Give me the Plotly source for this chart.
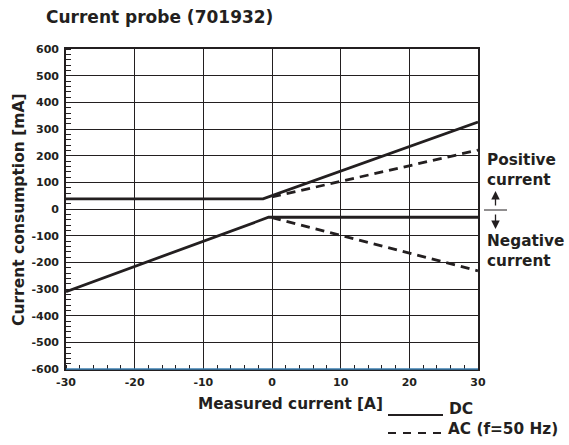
import plotly.graph_objects as go

# Measured current [A] and current consumption [mA]
dc_pos_x = [-30, -1.3, 30]
dc_pos_y = [38, 38, 326]
ac_pos_x = [0, 30]
ac_pos_y = [45, 221]
dc_neg_x = [-30, -0.5, 30]
dc_neg_y = [-310, -31, -31]
ac_neg_x = [0, 30]
ac_neg_y = [-32, -232]

x_ticks = [-30, -20, -10, 0, 10, 20, 30]
x_ticktext = ["-30", "-20", "-10", "0", "10", "20", "30"]
y_ticks = list(range(-600, 601, 100))
y_ticktext = [str(v) for v in y_ticks]

INK = "#231f20"
FONT = "DejaVu Sans, Verdana, sans-serif"

fig = go.Figure()
solid = dict(color=INK, width=2.8)
dashed = dict(color=INK, width=2.8, dash="9px,6px")
fig.add_trace(go.Scatter(x=dc_pos_x, y=dc_pos_y, mode="lines", line=solid))
fig.add_trace(go.Scatter(x=dc_neg_x, y=dc_neg_y, mode="lines", line=solid))
fig.add_trace(go.Scatter(x=ac_pos_x, y=ac_pos_y, mode="lines", line=dashed))
fig.add_trace(go.Scatter(x=ac_neg_x, y=ac_neg_y, mode="lines", line=dashed))

W, H = 569, 445
L, R, T, B = 66, 91, 49, 76
PW, PH = W - L - R, H - T - B


def px(xp):
    return (xp - L) / PW


def py(yp):
    return (H - B - yp) / PH


tickfont = dict(family=FONT, size=11, color=INK, weight="bold")
fig.update_layout(
    width=W, height=H,
    margin=dict(l=L, r=R, t=T, b=B),
    paper_bgcolor="white", plot_bgcolor="white",
    showlegend=False,
    xaxis=dict(
        range=[-30, 30], tickvals=x_ticks, ticktext=x_ticktext, ticks="",
        showgrid=True, gridcolor=INK, gridwidth=1.3, zeroline=False,
        showline=True, linecolor=INK, linewidth=1.6, mirror=True,
        tickfont=tickfont, ticklabelstandoff=2,
        minor=dict(dtick=2, ticks="inside", ticklen=4, tickcolor=INK, showgrid=False),
    ),
    yaxis=dict(
        range=[-600, 600], tickvals=y_ticks, ticktext=y_ticktext, ticks="",
        showgrid=True, gridcolor=INK, gridwidth=1.3, zeroline=False,
        showline=True, linecolor=INK, linewidth=1.6, mirror=True,
        tickfont=tickfont, ticklabelstandoff=3,
        minor=dict(dtick=20, ticks="inside", ticklen=5, tickcolor=INK, showgrid=False),
    ),
)

# bottom frame edge
fig.add_shape(type="line", xref="paper", yref="paper", x0=0, x1=1, y0=0, y1=0,
              line=dict(color="#3d7fb0", width=1.5))


def label(text, x, y, size, xanchor="left", angle=0):
    fig.add_annotation(text=text, xref="paper", yref="paper", x=px(x), y=py(y),
                       xanchor=xanchor, yanchor="middle", showarrow=False,
                       textangle=angle, align="left",
                       font=dict(family=FONT, size=size, color=INK, weight="bold"))


label("Current probe (701932)", 44, 17, 17)
label("Current consumption [mA]", 19, 210, 15.5, xanchor="center", angle=-90)
label("Measured current [A]", 290, 404, 15.3, xanchor="center")
label("DC", 447, 409, 15.5)
label("AC (f=50 Hz)", 446, 429, 15.3)
label("Positive<br>current", 485, 170, 15.3)
label("Negative<br>current", 485, 251, 15.3)

# legend samples
fig.add_shape(type="line", xref="paper", yref="paper", x0=px(388), x1=px(443),
              y0=py(415), y1=py(415), line=dict(color=INK, width=2.2))
fig.add_shape(type="line", xref="paper", yref="paper", x0=px(388), x1=px(442),
              y0=py(433), y1=py(433), line=dict(color=INK, width=2.2, dash="8px,7px"))

# direction marker between the two regions
fig.add_shape(type="line", xref="paper", yref="paper", x0=px(484), x1=px(507),
              y0=py(210), y1=py(210), line=dict(color=INK, width=1))
fig.add_annotation(xref="paper", yref="paper", x=px(495.5), y=py(191), ax=0, ay=16,
                   text="", showarrow=True, arrowhead=2, arrowsize=1.3,
                   arrowwidth=1.3, arrowcolor=INK)
fig.add_annotation(xref="paper", yref="paper", x=px(495.5), y=py(229), ax=0, ay=-16,
                   text="", showarrow=True, arrowhead=2, arrowsize=1.3,
                   arrowwidth=1.3, arrowcolor=INK)

fig.write_html("out.html")
